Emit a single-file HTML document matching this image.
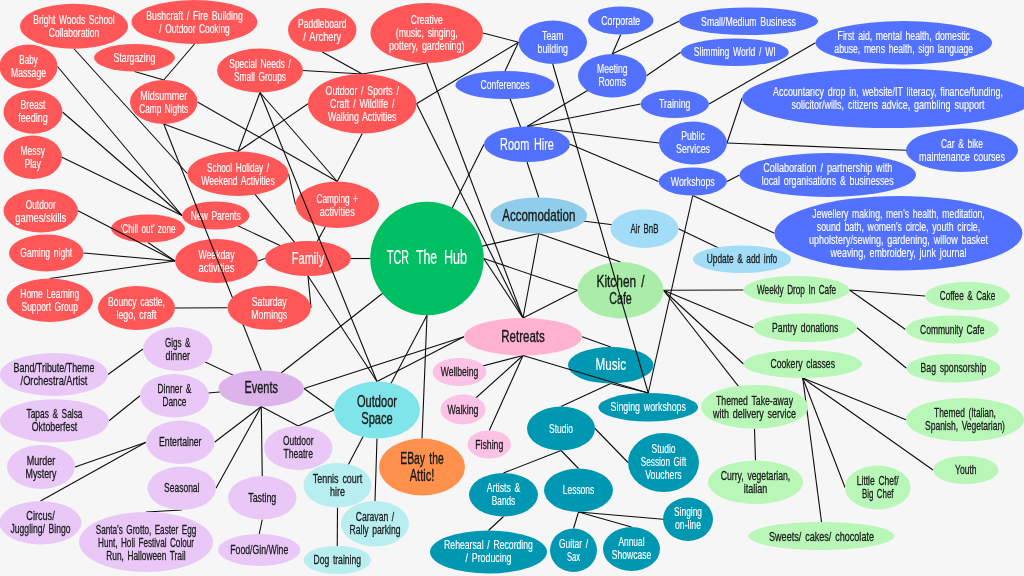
<!DOCTYPE html>
<html lang="en"><head><meta charset="utf-8"><title>TCR The Hub</title>
<style>
html,body{margin:0;padding:0;background:#f6f6f6;overflow:hidden}
svg{display:block;will-change:transform}
text{font-family:"Liberation Sans",Arial,sans-serif;text-anchor:middle;font-weight:normal;stroke-linejoin:round;word-spacing:0.15em}
line{stroke:#0d0d0d;stroke-width:1.1;stroke-linecap:butt}
</style></head>
<body>
<svg width="1024" height="576" viewBox="0 0 1024 576">
<rect width="1024" height="576" fill="#f6f6f6"/>
<line x1="74" y1="48.75" x2="187.5" y2="173.75"/>
<line x1="57.5" y1="66.5" x2="182.0" y2="215.5"/>
<line x1="62.5" y1="112.0" x2="182.0" y2="215.5"/>
<line x1="62.0" y1="157.25" x2="182.0" y2="215.5"/>
<line x1="194.5" y1="44" x2="163.75" y2="80"/>
<line x1="134.5" y1="71.5" x2="163.75" y2="80"/>
<line x1="197.5" y1="102" x2="337.25" y2="181.5"/>
<line x1="163.75" y1="124" x2="238" y2="151.5"/>
<line x1="260" y1="92.5" x2="238" y2="151.5"/>
<line x1="260" y1="92.5" x2="337.25" y2="181.5"/>
<line x1="303" y1="70.5" x2="362.25" y2="74.0"/>
<line x1="322.25" y1="52" x2="362.25" y2="74.0"/>
<line x1="426.75" y1="63" x2="362.25" y2="74.0"/>
<line x1="426.75" y1="63" x2="523" y2="318.0"/>
<line x1="483.0" y1="33" x2="518.5" y2="42.25"/>
<line x1="416.5" y1="103.75" x2="518.5" y2="42.25"/>
<line x1="416.5" y1="103.75" x2="523" y2="318.0"/>
<line x1="362.25" y1="133.5" x2="337.25" y2="181.5"/>
<line x1="308.0" y1="103.75" x2="238" y2="151.5"/>
<line x1="288.5" y1="173.75" x2="295.5" y2="204.75"/>
<line x1="238" y1="173.75" x2="308" y2="258.5"/>
<line x1="337.25" y1="204.75" x2="308" y2="258.5"/>
<line x1="215.75" y1="215.5" x2="308" y2="258.5"/>
<line x1="258.0" y1="261" x2="265" y2="258.5"/>
<line x1="351" y1="258.5" x2="370.25" y2="258.5"/>
<line x1="308" y1="276.0" x2="311.0" y2="307.8"/>
<line x1="308" y1="276.0" x2="377" y2="381.5"/>
<line x1="175.0" y1="308" x2="227.5" y2="307.8"/>
<line x1="83.5" y1="253" x2="175.0" y2="261"/>
<line x1="148" y1="242.5" x2="175.0" y2="261"/>
<line x1="49.75" y1="278.5" x2="175.0" y2="261"/>
<line x1="518.5" y1="42.25" x2="505" y2="71"/>
<line x1="505" y1="85" x2="527" y2="144.25"/>
<line x1="620.75" y1="34.5" x2="612.25" y2="54.0"/>
<line x1="679.0" y1="21.25" x2="612.25" y2="54.0"/>
<line x1="680.75" y1="52.25" x2="646.5" y2="75.75"/>
<line x1="527" y1="126.5" x2="612.25" y2="75.75"/>
<line x1="527" y1="126.5" x2="640.5" y2="104"/>
<line x1="527" y1="126.5" x2="659" y2="143"/>
<line x1="570" y1="144.25" x2="658.5" y2="181.5"/>
<line x1="484" y1="144.25" x2="427" y2="258.5"/>
<line x1="527" y1="162.0" x2="538.75" y2="197.5"/>
<line x1="709.0" y1="104" x2="815.5" y2="42.75"/>
<line x1="727" y1="143" x2="742" y2="98.25"/>
<line x1="727" y1="143" x2="906" y2="150.25"/>
<line x1="727.0" y1="181.5" x2="739.5" y2="175"/>
<line x1="692.75" y1="195.5" x2="774.5" y2="233.25"/>
<line x1="692.75" y1="195.5" x2="648.25" y2="393.0"/>
<line x1="538.75" y1="215.5" x2="644.5" y2="228.75"/>
<line x1="678.5" y1="228.75" x2="742" y2="259.25"/>
<line x1="538.75" y1="233.5" x2="427" y2="258.5"/>
<line x1="538.75" y1="233.5" x2="523" y2="318.0"/>
<line x1="538.75" y1="233.5" x2="620.5" y2="262.0"/>
<line x1="483.75" y1="258.5" x2="577.5" y2="290.25"/>
<line x1="483.75" y1="258.5" x2="523" y2="318.0"/>
<line x1="427" y1="258.5" x2="261.25" y2="388.5"/>
<line x1="427" y1="315.25" x2="377" y2="410"/>
<line x1="427" y1="315.25" x2="422" y2="438.5"/>
<line x1="523" y1="318.0" x2="577.5" y2="290.25"/>
<line x1="663.5" y1="290.25" x2="743.5" y2="290"/>
<line x1="663.5" y1="290.25" x2="753.5" y2="327.75"/>
<line x1="663.5" y1="290.25" x2="743.5" y2="364"/>
<line x1="663.5" y1="290.25" x2="754.5" y2="406.8"/>
<line x1="849.5" y1="290" x2="925.0" y2="296"/>
<line x1="849.5" y1="290" x2="905.5" y2="329.5"/>
<line x1="857.0" y1="327.75" x2="906.5" y2="368.25"/>
<line x1="802.75" y1="378" x2="906" y2="419.75"/>
<line x1="802.75" y1="378" x2="933.0" y2="470"/>
<line x1="802.75" y1="378" x2="845.0" y2="487.5"/>
<line x1="802.75" y1="378" x2="821.5" y2="522"/>
<line x1="754.5" y1="428.7" x2="755.5" y2="460.5"/>
<line x1="582" y1="336.75" x2="610.75" y2="347.0"/>
<line x1="523" y1="355.5" x2="459.5" y2="372"/>
<line x1="523" y1="355.5" x2="463" y2="409.5"/>
<line x1="523" y1="355.5" x2="489.25" y2="430.5"/>
<line x1="304.0" y1="388.5" x2="464" y2="336.75"/>
<line x1="377" y1="381.5" x2="464" y2="336.75"/>
<line x1="610.75" y1="383.5" x2="648.25" y2="393.0"/>
<line x1="610.75" y1="383.5" x2="561" y2="406.5"/>
<line x1="561" y1="450.5" x2="503.5" y2="473.0"/>
<line x1="561" y1="450.5" x2="578.5" y2="468.5"/>
<line x1="595" y1="428.5" x2="628.0" y2="462.5"/>
<line x1="503.5" y1="516.5" x2="488.5" y2="530.5"/>
<line x1="578.5" y1="512.0" x2="573.5" y2="528.5"/>
<line x1="578.5" y1="512.0" x2="631.5" y2="527"/>
<line x1="578.5" y1="512.0" x2="663" y2="519.25"/>
<line x1="177.75" y1="349" x2="261.25" y2="388.5"/>
<line x1="174.5" y1="395.75" x2="261.25" y2="388.5"/>
<line x1="108" y1="374.5" x2="143.0" y2="349"/>
<line x1="109.0" y1="420.8" x2="140.0" y2="395.75"/>
<line x1="261.25" y1="406.5" x2="214.5" y2="442.25"/>
<line x1="261.25" y1="406.5" x2="216.0" y2="488.25"/>
<line x1="261.25" y1="406.5" x2="262.25" y2="476.0"/>
<line x1="261.25" y1="406.5" x2="298.25" y2="426"/>
<line x1="298.25" y1="426" x2="334" y2="410"/>
<line x1="304.0" y1="388.5" x2="334" y2="410"/>
<line x1="146.0" y1="442.25" x2="75" y2="467"/>
<line x1="146.0" y1="442.25" x2="40.5" y2="501.0"/>
<line x1="181.75" y1="510.0" x2="146" y2="512"/>
<line x1="262.25" y1="519.5" x2="259.25" y2="534"/>
<line x1="377" y1="410" x2="337.5" y2="485.25"/>
<line x1="377" y1="438.5" x2="375" y2="501.0"/>
<line x1="337.5" y1="507.5" x2="337.25" y2="546"/>
<g><ellipse cx="74" cy="26.25" rx="54" ry="22.5" fill="#ff5757"/><text transform="translate(74.00 24.05) scale(0.6888 1)" font-size="12.3" fill="#ffffff" stroke="#ffffff" stroke-width="0.14">Bright Woods School</text><text transform="translate(74.00 37.05) scale(0.6968 1)" font-size="12.3" fill="#ffffff" stroke="#ffffff" stroke-width="0.14">Collaboration</text></g>
<g><ellipse cx="194.5" cy="22" rx="63" ry="22" fill="#ff5757"/><text transform="translate(194.50 19.80) scale(0.7090 1)" font-size="12.3" fill="#ffffff" stroke="#ffffff" stroke-width="0.14">Bushcraft / Fire Building</text><text transform="translate(194.50 32.80) scale(0.6811 1)" font-size="12.3" fill="#ffffff" stroke="#ffffff" stroke-width="0.14">/ Outdoor Cooking</text></g>
<g><ellipse cx="134.5" cy="57.75" rx="40.5" ry="13.75" fill="#ff5757"/><text transform="translate(134.50 62.05) scale(0.7143 1)" font-size="12.3" fill="#ffffff" stroke="#ffffff" stroke-width="0.14">Stargazing</text></g>
<g><ellipse cx="28.5" cy="66.5" rx="29" ry="22" fill="#ff5757"/><text transform="translate(28.50 64.30) scale(0.6599 1)" font-size="12.3" fill="#ffffff" stroke="#ffffff" stroke-width="0.14">Baby</text><text transform="translate(28.50 77.30) scale(0.7013 1)" font-size="12.3" fill="#ffffff" stroke="#ffffff" stroke-width="0.14">Massage</text></g>
<g><ellipse cx="33" cy="112.0" rx="29.5" ry="21.75" fill="#ff5757"/><text transform="translate(33.00 109.30) scale(0.7033 1)" font-size="12.3" fill="#ffffff" stroke="#ffffff" stroke-width="0.14">Breast</text><text transform="translate(33.00 122.30) scale(0.7311 1)" font-size="12.3" fill="#ffffff" stroke="#ffffff" stroke-width="0.14">feeding</text></g>
<g><ellipse cx="32.75" cy="157.25" rx="29.25" ry="21.75" fill="#ff5757"/><text transform="translate(32.75 155.05) scale(0.6895 1)" font-size="12.3" fill="#ffffff" stroke="#ffffff" stroke-width="0.14">Messy</text><text transform="translate(32.75 168.05) scale(0.6687 1)" font-size="12.3" fill="#ffffff" stroke="#ffffff" stroke-width="0.14">Play</text></g>
<g><ellipse cx="163.75" cy="102" rx="33.75" ry="22" fill="#ff5757"/><text transform="translate(163.75 99.80) scale(0.7317 1)" font-size="12.3" fill="#ffffff" stroke="#ffffff" stroke-width="0.14">Midsummer</text><text transform="translate(163.75 112.80) scale(0.6718 1)" font-size="12.3" fill="#ffffff" stroke="#ffffff" stroke-width="0.14">Camp Nights</text></g>
<g><ellipse cx="260" cy="70.5" rx="43" ry="22" fill="#ff5757"/><text transform="translate(260.00 68.30) scale(0.6846 1)" font-size="12.3" fill="#ffffff" stroke="#ffffff" stroke-width="0.14">Special Needs /</text><text transform="translate(260.00 81.30) scale(0.6811 1)" font-size="12.3" fill="#ffffff" stroke="#ffffff" stroke-width="0.14">Small Groups</text></g>
<g><ellipse cx="322.25" cy="30" rx="34.25" ry="22" fill="#ff5757"/><text transform="translate(322.25 27.80) scale(0.6953 1)" font-size="12.3" fill="#ffffff" stroke="#ffffff" stroke-width="0.14">Paddleboard</text><text transform="translate(322.25 40.80) scale(0.7543 1)" font-size="12.3" fill="#ffffff" stroke="#ffffff" stroke-width="0.14">/ Archery</text></g>
<g><ellipse cx="426.75" cy="33" rx="56.25" ry="30" fill="#ff5757"/><text transform="translate(426.75 24.30) scale(0.6987 1)" font-size="12.3" fill="#ffffff" stroke="#ffffff" stroke-width="0.14">Creative</text><text transform="translate(426.75 37.30) scale(0.7103 1)" font-size="12.3" fill="#ffffff" stroke="#ffffff" stroke-width="0.14">(music, singing,</text><text transform="translate(426.75 50.30) scale(0.7248 1)" font-size="12.3" fill="#ffffff" stroke="#ffffff" stroke-width="0.14">pottery, gardening)</text></g>
<g><ellipse cx="362.25" cy="103.75" rx="54.25" ry="29.75" fill="#ff5757"/><text transform="translate(362.25 95.05) scale(0.7163 1)" font-size="12.3" fill="#ffffff" stroke="#ffffff" stroke-width="0.14">Outdoor / Sports /</text><text transform="translate(362.25 108.05) scale(0.7254 1)" font-size="12.3" fill="#ffffff" stroke="#ffffff" stroke-width="0.14">Craft / Wildlife /</text><text transform="translate(362.25 121.05) scale(0.7106 1)" font-size="12.3" fill="#ffffff" stroke="#ffffff" stroke-width="0.14">Walking Activities</text></g>
<g><ellipse cx="238" cy="173.75" rx="50.5" ry="22.25" fill="#ff5757"/><text transform="translate(238.00 171.55) scale(0.6698 1)" font-size="12.3" fill="#ffffff" stroke="#ffffff" stroke-width="0.14">School Holiday /</text><text transform="translate(238.00 184.55) scale(0.7010 1)" font-size="12.3" fill="#ffffff" stroke="#ffffff" stroke-width="0.14">Weekend Activities</text></g>
<g><ellipse cx="337.25" cy="204.75" rx="41.75" ry="23.25" fill="#ff5757"/><text transform="translate(337.25 202.55) scale(0.6730 1)" font-size="12.3" fill="#ffffff" stroke="#ffffff" stroke-width="0.14">Camping +</text><text transform="translate(337.25 215.55) scale(0.7421 1)" font-size="12.3" fill="#ffffff" stroke="#ffffff" stroke-width="0.14">activities</text></g>
<g><ellipse cx="40.75" cy="210.75" rx="37.25" ry="21.75" fill="#ff5757"/><text transform="translate(40.75 208.55) scale(0.6751 1)" font-size="12.3" fill="#ffffff" stroke="#ffffff" stroke-width="0.14">Outdoor</text><text transform="translate(40.75 221.55) scale(0.7614 1)" font-size="12.3" fill="#ffffff" stroke="#ffffff" stroke-width="0.14">games/skills</text></g>
<g><ellipse cx="148" cy="228.5" rx="37" ry="14" fill="#ff5757"/><text transform="translate(148.00 232.80) scale(0.6609 1)" font-size="12.3" fill="#ffffff" stroke="#ffffff" stroke-width="0.14">‘Chill out’ zone</text></g>
<g><ellipse cx="215.75" cy="215.5" rx="33.75" ry="14" fill="#ff5757"/><text transform="translate(215.75 219.80) scale(0.6920 1)" font-size="12.3" fill="#ffffff" stroke="#ffffff" stroke-width="0.14">New Parents</text></g>
<g><ellipse cx="46.25" cy="253" rx="37.25" ry="18.5" fill="#ff5757"/><text transform="translate(46.25 257.30) scale(0.6934 1)" font-size="12.3" fill="#ffffff" stroke="#ffffff" stroke-width="0.14">Gaming night</text></g>
<g><ellipse cx="216.5" cy="261" rx="41.5" ry="22" fill="#ff5757"/><text transform="translate(216.50 258.80) scale(0.7052 1)" font-size="12.3" fill="#ffffff" stroke="#ffffff" stroke-width="0.14">Weekday</text><text transform="translate(216.50 271.80) scale(0.7633 1)" font-size="12.3" fill="#ffffff" stroke="#ffffff" stroke-width="0.14">activities</text></g>
<g><ellipse cx="308" cy="258.5" rx="43" ry="17.5" fill="#ff5757"/><text transform="translate(308.00 264.00) scale(0.6899 1)" font-size="16.0" fill="#ffffff" stroke="#ffffff" stroke-width="0.19">Family</text></g>
<g><ellipse cx="49.75" cy="300.25" rx="43.25" ry="21.75" fill="#ff5757"/><text transform="translate(49.75 298.05) scale(0.6865 1)" font-size="12.3" fill="#ffffff" stroke="#ffffff" stroke-width="0.14">Home Learning</text><text transform="translate(49.75 311.05) scale(0.6847 1)" font-size="12.3" fill="#ffffff" stroke="#ffffff" stroke-width="0.14">Support Group</text></g>
<g><ellipse cx="136.5" cy="308" rx="38.5" ry="22" fill="#ff5757"/><text transform="translate(136.50 305.80) scale(0.6965 1)" font-size="12.3" fill="#ffffff" stroke="#ffffff" stroke-width="0.14">Bouncy castle,</text><text transform="translate(136.50 318.80) scale(0.7162 1)" font-size="12.3" fill="#ffffff" stroke="#ffffff" stroke-width="0.14">lego, craft</text></g>
<g><ellipse cx="427" cy="258.5" rx="56.75" ry="56.75" fill="#00bf63"/><text y="264.10" font-size="19.8" fill="#ffffff" stroke="#ffffff" stroke-width="0.2" style="text-anchor:start"><tspan x="387.10" textLength="21.90" lengthAdjust="spacingAndGlyphs">TCR</tspan> <tspan x="415.90" textLength="21.20" lengthAdjust="spacingAndGlyphs">The</tspan> <tspan x="444.00" textLength="23.10" lengthAdjust="spacingAndGlyphs">Hub</tspan></text></g>
<g><ellipse cx="552.75" cy="42.25" rx="34.25" ry="21.75" fill="#5271ff"/><text transform="translate(552.75 40.05) scale(0.7149 1)" font-size="12.3" fill="#ffffff" stroke="#ffffff" stroke-width="0.14">Team</text><text transform="translate(552.75 53.05) scale(0.7194 1)" font-size="12.3" fill="#ffffff" stroke="#ffffff" stroke-width="0.14">building</text></g>
<g><ellipse cx="620.75" cy="20.5" rx="32.75" ry="14" fill="#5271ff"/><text transform="translate(620.75 24.80) scale(0.7131 1)" font-size="12.3" fill="#ffffff" stroke="#ffffff" stroke-width="0.14">Corporate</text></g>
<g><ellipse cx="748.5" cy="21.25" rx="69.5" ry="13.75" fill="#5271ff"/><text transform="translate(748.50 25.55) scale(0.7138 1)" font-size="12.3" fill="#ffffff" stroke="#ffffff" stroke-width="0.14">Small/Medium Business</text></g>
<g><ellipse cx="734.75" cy="52.25" rx="54" ry="13.75" fill="#5271ff"/><text transform="translate(734.75 56.05) scale(0.7027 1)" font-size="12.3" fill="#ffffff" stroke="#ffffff" stroke-width="0.14">Slimming World / WI</text></g>
<g><ellipse cx="505" cy="85" rx="49.5" ry="14" fill="#5271ff"/><text transform="translate(505.00 89.30) scale(0.7027 1)" font-size="12.3" fill="#ffffff" stroke="#ffffff" stroke-width="0.14">Conferences</text></g>
<g><ellipse cx="612.25" cy="75.75" rx="34.25" ry="21.75" fill="#5271ff"/><text transform="translate(612.25 73.05) scale(0.6971 1)" font-size="12.3" fill="#ffffff" stroke="#ffffff" stroke-width="0.14">Meeting</text><text transform="translate(612.25 86.05) scale(0.7059 1)" font-size="12.3" fill="#ffffff" stroke="#ffffff" stroke-width="0.14">Rooms</text></g>
<g><ellipse cx="674.75" cy="104" rx="34.25" ry="14" fill="#5271ff"/><text transform="translate(674.75 108.30) scale(0.7163 1)" font-size="12.3" fill="#ffffff" stroke="#ffffff" stroke-width="0.14">Training</text></g>
<g><ellipse cx="903.75" cy="42.75" rx="88.25" ry="21.75" fill="#5271ff"/><text transform="translate(903.75 39.95) scale(0.7054 1)" font-size="12.3" fill="#ffffff" stroke="#ffffff" stroke-width="0.14">First aid, mental health, domestic</text><text transform="translate(903.75 52.95) scale(0.7015 1)" font-size="12.3" fill="#ffffff" stroke="#ffffff" stroke-width="0.14">abuse, mens health, sign language</text></g>
<g><ellipse cx="888" cy="98.25" rx="146" ry="29.75" fill="#5271ff"/><text transform="translate(888.00 95.75) scale(0.7222 1)" font-size="12.3" fill="#ffffff" stroke="#ffffff" stroke-width="0.14">Accountancy drop in, website/IT literacy, finance/funding,</text><text transform="translate(888.00 108.75) scale(0.7318 1)" font-size="12.3" fill="#ffffff" stroke="#ffffff" stroke-width="0.14">solicitor/wills, citizens advice, gambling support</text></g>
<g><ellipse cx="527" cy="144.25" rx="43" ry="17.75" fill="#5271ff"/><text transform="translate(527.00 149.65) scale(0.6822 1)" font-size="16.0" fill="#ffffff" stroke="#ffffff" stroke-width="0.19">Room Hire</text></g>
<g><ellipse cx="693" cy="143" rx="34" ry="21.5" fill="#5271ff"/><text transform="translate(693.00 140.30) scale(0.7015 1)" font-size="12.3" fill="#ffffff" stroke="#ffffff" stroke-width="0.14">Public</text><text transform="translate(693.00 153.30) scale(0.7209 1)" font-size="12.3" fill="#ffffff" stroke="#ffffff" stroke-width="0.14">Services</text></g>
<g><ellipse cx="962" cy="150.25" rx="56" ry="21.75" fill="#5271ff"/><text transform="translate(962.00 148.05) scale(0.6873 1)" font-size="12.3" fill="#ffffff" stroke="#ffffff" stroke-width="0.14">Car &amp; bike</text><text transform="translate(962.00 161.05) scale(0.7242 1)" font-size="12.3" fill="#ffffff" stroke="#ffffff" stroke-width="0.14">maintenance courses</text></g>
<g><ellipse cx="692.75" cy="181.5" rx="34.25" ry="14" fill="#5271ff"/><text transform="translate(692.75 185.80) scale(0.7179 1)" font-size="12.3" fill="#ffffff" stroke="#ffffff" stroke-width="0.14">Workshops</text></g>
<g><ellipse cx="827.75" cy="175" rx="88.25" ry="22" fill="#5271ff"/><text transform="translate(827.75 172.00) scale(0.7368 1)" font-size="12.3" fill="#ffffff" stroke="#ffffff" stroke-width="0.14">Collaboration / partnership with</text><text transform="translate(827.75 185.00) scale(0.7175 1)" font-size="12.3" fill="#ffffff" stroke="#ffffff" stroke-width="0.14">local organisations &amp; businesses</text></g>
<g><ellipse cx="898.5" cy="233.25" rx="124" ry="37.25" fill="#5271ff"/><text transform="translate(898.50 218.05) scale(0.7039 1)" font-size="12.3" fill="#ffffff" stroke="#ffffff" stroke-width="0.14">Jewellery making, men’s health, meditation,</text><text transform="translate(898.50 231.05) scale(0.7115 1)" font-size="12.3" fill="#ffffff" stroke="#ffffff" stroke-width="0.14">sound bath, women’s circle, youth circle,</text><text transform="translate(898.50 244.05) scale(0.7332 1)" font-size="12.3" fill="#ffffff" stroke="#ffffff" stroke-width="0.14">upholstery/sewing, gardening, willow basket</text><text transform="translate(898.50 257.05) scale(0.7240 1)" font-size="12.3" fill="#ffffff" stroke="#ffffff" stroke-width="0.14">weaving, embroidery, junk journal</text></g>
<g><ellipse cx="538.75" cy="215.5" rx="48.25" ry="18" fill="#8fcdea"/><text transform="translate(538.75 220.80) scale(0.7220 1)" font-size="16.0" fill="#1a1a1a" stroke="#1a1a1a" stroke-width="0.38">Accomodation</text></g>
<g><ellipse cx="644.5" cy="228.75" rx="34" ry="19.25" fill="#a2dcf7"/><text transform="translate(644.50 233.05) scale(0.6430 1)" font-size="12.3" fill="#1a1a1a" stroke="#1a1a1a" stroke-width="0.28">Air BnB</text></g>
<g><ellipse cx="742" cy="259.25" rx="49" ry="13.75" fill="#a2dcf7"/><text transform="translate(742.00 262.85) scale(0.6779 1)" font-size="12.3" fill="#1a1a1a" stroke="#1a1a1a" stroke-width="0.28">Update &amp; add info</text></g>
<g><ellipse cx="620.5" cy="290.25" rx="43" ry="28.25" fill="#a9eda8"/><text transform="translate(620.50 286.75) scale(0.7424 1)" font-size="16.0" fill="#1a1a1a" stroke="#1a1a1a" stroke-width="0.38">Kitchen /</text><text transform="translate(620.50 303.75) scale(0.6687 1)" font-size="16.0" fill="#1a1a1a" stroke="#1a1a1a" stroke-width="0.38">Cafe</text></g>
<g><ellipse cx="796.5" cy="290" rx="53" ry="14" fill="#b8f7b8"/><text transform="translate(796.50 294.30) scale(0.6651 1)" font-size="12.3" fill="#1a1a1a" stroke="#1a1a1a" stroke-width="0.28">Weekly Drop In Cafe</text></g>
<g><ellipse cx="967.5" cy="296" rx="42.5" ry="14" fill="#b8f7b8"/><text transform="translate(967.50 300.30) scale(0.6650 1)" font-size="12.3" fill="#1a1a1a" stroke="#1a1a1a" stroke-width="0.28">Coffee &amp; Cake</text></g>
<g><ellipse cx="805.25" cy="327.75" rx="51.75" ry="14.25" fill="#b8f7b8"/><text transform="translate(805.25 331.55) scale(0.7053 1)" font-size="12.3" fill="#1a1a1a" stroke="#1a1a1a" stroke-width="0.28">Pantry donations</text></g>
<g><ellipse cx="952.25" cy="329.5" rx="46.75" ry="14" fill="#b8f7b8"/><text transform="translate(952.25 333.80) scale(0.6903 1)" font-size="12.3" fill="#1a1a1a" stroke="#1a1a1a" stroke-width="0.28">Community Cafe</text></g>
<g><ellipse cx="802.75" cy="364" rx="59.25" ry="14" fill="#b8f7b8"/><text transform="translate(802.75 368.00) scale(0.7005 1)" font-size="12.3" fill="#1a1a1a" stroke="#1a1a1a" stroke-width="0.28">Cookery classes</text></g>
<g><ellipse cx="953.5" cy="368.25" rx="47" ry="14.25" fill="#b8f7b8"/><text transform="translate(953.50 371.75) scale(0.7061 1)" font-size="12.3" fill="#1a1a1a" stroke="#1a1a1a" stroke-width="0.28">Bag sponsorship</text></g>
<g><ellipse cx="754.5" cy="406.8" rx="53.5" ry="21.9" fill="#b8f7b8"/><text transform="translate(754.50 404.60) scale(0.7068 1)" font-size="12.3" fill="#1a1a1a" stroke="#1a1a1a" stroke-width="0.28">Themed Take-away</text><text transform="translate(754.50 417.60) scale(0.7298 1)" font-size="12.3" fill="#1a1a1a" stroke="#1a1a1a" stroke-width="0.28">with delivery service</text></g>
<g><ellipse cx="965" cy="419.75" rx="59" ry="21.75" fill="#b8f7b8"/><text transform="translate(965.00 416.85) scale(0.6835 1)" font-size="12.3" fill="#1a1a1a" stroke="#1a1a1a" stroke-width="0.28">Themed (Italian,</text><text transform="translate(965.00 429.85) scale(0.6895 1)" font-size="12.3" fill="#1a1a1a" stroke="#1a1a1a" stroke-width="0.28">Spanish, Vegetarian)</text></g>
<g><ellipse cx="755.5" cy="482.25" rx="47.5" ry="21.75" fill="#b8f7b8"/><text transform="translate(755.50 479.65) scale(0.7043 1)" font-size="12.3" fill="#1a1a1a" stroke="#1a1a1a" stroke-width="0.28">Curry, vegetarian,</text><text transform="translate(755.50 492.65) scale(0.7313 1)" font-size="12.3" fill="#1a1a1a" stroke="#1a1a1a" stroke-width="0.28">italian</text></g>
<g><ellipse cx="877.75" cy="487.5" rx="32.75" ry="22" fill="#b8f7b8"/><text transform="translate(877.75 485.30) scale(0.6926 1)" font-size="12.3" fill="#1a1a1a" stroke="#1a1a1a" stroke-width="0.28">Little Chef/</text><text transform="translate(877.75 498.30) scale(0.6426 1)" font-size="12.3" fill="#1a1a1a" stroke="#1a1a1a" stroke-width="0.28">Big Chef</text></g>
<g><ellipse cx="965.75" cy="470" rx="32.75" ry="14" fill="#b8f7b8"/><text transform="translate(965.75 474.30) scale(0.6933 1)" font-size="12.3" fill="#1a1a1a" stroke="#1a1a1a" stroke-width="0.28">Youth</text></g>
<g><ellipse cx="821.5" cy="536" rx="73" ry="14" fill="#b8f7b8"/><text transform="translate(821.50 540.80) scale(0.7370 1)" font-size="12.3" fill="#1a1a1a" stroke="#1a1a1a" stroke-width="0.28">Sweets/ cakes/ chocolate</text></g>
<g><ellipse cx="523" cy="336.75" rx="59" ry="18.75" fill="#ffb3d1"/><text transform="translate(523.00 341.75) scale(0.7211 1)" font-size="16.0" fill="#1a1a1a" stroke="#1a1a1a" stroke-width="0.38">Retreats</text></g>
<g><ellipse cx="459.5" cy="372" rx="27" ry="14" fill="#fcc2e6"/><text transform="translate(459.50 376.30) scale(0.6972 1)" font-size="12.3" fill="#1a1a1a" stroke="#1a1a1a" stroke-width="0.28">Wellbeing</text></g>
<g><ellipse cx="463" cy="409.5" rx="22.5" ry="15" fill="#fcc2e6"/><text transform="translate(463.00 413.80) scale(0.7161 1)" font-size="12.3" fill="#1a1a1a" stroke="#1a1a1a" stroke-width="0.28">Walking</text></g>
<g><ellipse cx="489.25" cy="444.5" rx="21.75" ry="14" fill="#fcc2e6"/><text transform="translate(489.25 448.80) scale(0.7062 1)" font-size="12.3" fill="#1a1a1a" stroke="#1a1a1a" stroke-width="0.28">Fishing</text></g>
<g><ellipse cx="610.75" cy="365.25" rx="42.75" ry="18.25" fill="#0097b2"/><text transform="translate(610.75 370.25) scale(0.7300 1)" font-size="16.0" fill="#ffffff" stroke="#ffffff" stroke-width="0.19">Music</text></g>
<g><ellipse cx="648.25" cy="407.25" rx="49.75" ry="14.25" fill="#0097b2"/><text transform="translate(648.25 411.05) scale(0.7185 1)" font-size="12.3" fill="#ffffff" stroke="#ffffff" stroke-width="0.14">Singing workshops</text></g>
<g><ellipse cx="561" cy="428.5" rx="34" ry="22" fill="#0097b2"/><text transform="translate(561.00 432.80) scale(0.6882 1)" font-size="12.3" fill="#ffffff" stroke="#ffffff" stroke-width="0.14">Studio</text></g>
<g><ellipse cx="663.5" cy="462.5" rx="35.5" ry="29.5" fill="#0097b2"/><text transform="translate(663.50 453.30) scale(0.6882 1)" font-size="12.3" fill="#ffffff" stroke="#ffffff" stroke-width="0.14">Studio</text><text transform="translate(663.50 466.30) scale(0.6676 1)" font-size="12.3" fill="#ffffff" stroke="#ffffff" stroke-width="0.14">Session Gift</text><text transform="translate(663.50 479.30) scale(0.7118 1)" font-size="12.3" fill="#ffffff" stroke="#ffffff" stroke-width="0.14">Vouchers</text></g>
<g><ellipse cx="503.5" cy="494.75" rx="34.5" ry="21.75" fill="#0097b2"/><text transform="translate(503.50 492.05) scale(0.7033 1)" font-size="12.3" fill="#ffffff" stroke="#ffffff" stroke-width="0.14">Artists &amp;</text><text transform="translate(503.50 505.05) scale(0.6738 1)" font-size="12.3" fill="#ffffff" stroke="#ffffff" stroke-width="0.14">Bands</text></g>
<g><ellipse cx="578.5" cy="490.25" rx="34.5" ry="21.75" fill="#0097b2"/><text transform="translate(578.50 494.15) scale(0.6876 1)" font-size="12.3" fill="#ffffff" stroke="#ffffff" stroke-width="0.14">Lessons</text></g>
<g><ellipse cx="688" cy="519.25" rx="25" ry="21.75" fill="#0097b2"/><text transform="translate(688.00 516.45) scale(0.6824 1)" font-size="12.3" fill="#ffffff" stroke="#ffffff" stroke-width="0.14">Singing</text><text transform="translate(688.00 529.45) scale(0.7042 1)" font-size="12.3" fill="#ffffff" stroke="#ffffff" stroke-width="0.14">on-line</text></g>
<g><ellipse cx="488.5" cy="552" rx="58.5" ry="21.5" fill="#0097b2"/><text transform="translate(488.50 549.30) scale(0.7060 1)" font-size="12.3" fill="#ffffff" stroke="#ffffff" stroke-width="0.14">Rehearsal / Recording</text><text transform="translate(488.50 562.30) scale(0.7181 1)" font-size="12.3" fill="#ffffff" stroke="#ffffff" stroke-width="0.14">/ Producing</text></g>
<g><ellipse cx="573.5" cy="550.25" rx="23.5" ry="21.75" fill="#0097b2"/><text transform="translate(573.50 548.05) scale(0.6877 1)" font-size="12.3" fill="#ffffff" stroke="#ffffff" stroke-width="0.14">Guitar /</text><text transform="translate(573.50 561.05) scale(0.6134 1)" font-size="12.3" fill="#ffffff" stroke="#ffffff" stroke-width="0.14">Sax</text></g>
<g><ellipse cx="631.5" cy="549" rx="28.5" ry="22" fill="#0097b2"/><text transform="translate(631.50 546.30) scale(0.6789 1)" font-size="12.3" fill="#ffffff" stroke="#ffffff" stroke-width="0.14">Annual</text><text transform="translate(631.50 559.30) scale(0.6961 1)" font-size="12.3" fill="#ffffff" stroke="#ffffff" stroke-width="0.14">Showcase</text></g>
<g><ellipse cx="261.25" cy="388.5" rx="42.75" ry="18" fill="#dcb3ea"/><text transform="translate(261.25 393.10) scale(0.6829 1)" font-size="16.0" fill="#1a1a1a" stroke="#1a1a1a" stroke-width="0.38">Events</text></g>
<g><ellipse cx="177.75" cy="349" rx="34.75" ry="22" fill="#e9c8f7"/><text transform="translate(177.75 346.80) scale(0.6580 1)" font-size="12.3" fill="#1a1a1a" stroke="#1a1a1a" stroke-width="0.28">Gigs &amp;</text><text transform="translate(177.75 359.80) scale(0.7166 1)" font-size="12.3" fill="#1a1a1a" stroke="#1a1a1a" stroke-width="0.28">dinner</text></g>
<g><ellipse cx="54" cy="374.5" rx="54" ry="21.5" fill="#e9c8f7"/><text transform="translate(54.00 372.30) scale(0.7254 1)" font-size="12.3" fill="#1a1a1a" stroke="#1a1a1a" stroke-width="0.28">Band/Tribute/Theme</text><text transform="translate(54.00 385.30) scale(0.7541 1)" font-size="12.3" fill="#1a1a1a" stroke="#1a1a1a" stroke-width="0.28">/Orchestra/Artist</text></g>
<g><ellipse cx="174.5" cy="395.75" rx="34.5" ry="21.75" fill="#e9c8f7"/><text transform="translate(174.50 392.85) scale(0.6841 1)" font-size="12.3" fill="#1a1a1a" stroke="#1a1a1a" stroke-width="0.28">Dinner &amp;</text><text transform="translate(174.50 405.85) scale(0.6751 1)" font-size="12.3" fill="#1a1a1a" stroke="#1a1a1a" stroke-width="0.28">Dance</text></g>
<g><ellipse cx="54.5" cy="420.8" rx="54.5" ry="21.6" fill="#e9c8f7"/><text transform="translate(54.50 417.90) scale(0.6803 1)" font-size="12.3" fill="#1a1a1a" stroke="#1a1a1a" stroke-width="0.28">Tapas &amp; Salsa</text><text transform="translate(54.50 430.90) scale(0.7157 1)" font-size="12.3" fill="#1a1a1a" stroke="#1a1a1a" stroke-width="0.28">Oktoberfest</text></g>
<g><ellipse cx="180.25" cy="442.25" rx="34.25" ry="21.75" fill="#e9c8f7"/><text transform="translate(180.25 445.75) scale(0.7064 1)" font-size="12.3" fill="#1a1a1a" stroke="#1a1a1a" stroke-width="0.28">Entertainer</text></g>
<g><ellipse cx="41" cy="467" rx="34" ry="22" fill="#e9c8f7"/><text transform="translate(41.00 464.80) scale(0.7316 1)" font-size="12.3" fill="#1a1a1a" stroke="#1a1a1a" stroke-width="0.28">Murder</text><text transform="translate(41.00 477.80) scale(0.7201 1)" font-size="12.3" fill="#1a1a1a" stroke="#1a1a1a" stroke-width="0.28">Mystery</text></g>
<g><ellipse cx="181.75" cy="488.25" rx="34.25" ry="21.75" fill="#e9c8f7"/><text transform="translate(181.75 491.55) scale(0.6922 1)" font-size="12.3" fill="#1a1a1a" stroke="#1a1a1a" stroke-width="0.28">Seasonal</text></g>
<g><ellipse cx="40.5" cy="522.75" rx="41" ry="21.75" fill="#e9c8f7"/><text transform="translate(40.50 519.75) scale(0.7447 1)" font-size="12.3" fill="#1a1a1a" stroke="#1a1a1a" stroke-width="0.28">Circus/</text><text transform="translate(40.50 532.75) scale(0.6981 1)" font-size="12.3" fill="#1a1a1a" stroke="#1a1a1a" stroke-width="0.28">Juggling/ Bingo</text></g>
<g><ellipse cx="146" cy="542" rx="67" ry="30" fill="#e9c8f7"/><text transform="translate(146.00 533.80) scale(0.6629 1)" font-size="12.3" fill="#1a1a1a" stroke="#1a1a1a" stroke-width="0.28">Santa’s Grotto, Easter Egg</text><text transform="translate(146.00 546.80) scale(0.6622 1)" font-size="12.3" fill="#1a1a1a" stroke="#1a1a1a" stroke-width="0.28">Hunt, Holi Festival Colour</text><text transform="translate(146.00 559.80) scale(0.6785 1)" font-size="12.3" fill="#1a1a1a" stroke="#1a1a1a" stroke-width="0.28">Run, Halloween Trail</text></g>
<g><ellipse cx="298.25" cy="448" rx="34.25" ry="22" fill="#e9c8f7"/><text transform="translate(298.25 445.10) scale(0.6863 1)" font-size="12.3" fill="#1a1a1a" stroke="#1a1a1a" stroke-width="0.28">Outdoor</text><text transform="translate(298.25 458.10) scale(0.6960 1)" font-size="12.3" fill="#1a1a1a" stroke="#1a1a1a" stroke-width="0.28">Theatre</text></g>
<g><ellipse cx="262.25" cy="497.75" rx="34.25" ry="21.75" fill="#e9c8f7"/><text transform="translate(262.25 502.05) scale(0.7185 1)" font-size="12.3" fill="#1a1a1a" stroke="#1a1a1a" stroke-width="0.28">Tasting</text></g>
<g><ellipse cx="259.25" cy="550" rx="41.25" ry="16" fill="#e9c8f7"/><text transform="translate(259.25 554.30) scale(0.7071 1)" font-size="12.3" fill="#1a1a1a" stroke="#1a1a1a" stroke-width="0.28">Food/Gin/Wine</text></g>
<g><ellipse cx="377" cy="410" rx="43" ry="28.5" fill="#80e5ea"/><text transform="translate(377.00 406.50) scale(0.6920 1)" font-size="16.0" fill="#1a1a1a" stroke="#1a1a1a" stroke-width="0.38">Outdoor</text><text transform="translate(377.00 423.50) scale(0.6944 1)" font-size="16.0" fill="#1a1a1a" stroke="#1a1a1a" stroke-width="0.38">Space</text></g>
<g><ellipse cx="337.5" cy="485.25" rx="34" ry="22.25" fill="#b8eef0"/><text transform="translate(337.50 483.05) scale(0.7263 1)" font-size="12.3" fill="#1a1a1a" stroke="#1a1a1a" stroke-width="0.28">Tennis court</text><text transform="translate(337.50 496.05) scale(0.7314 1)" font-size="12.3" fill="#1a1a1a" stroke="#1a1a1a" stroke-width="0.28">hire</text></g>
<g><ellipse cx="375" cy="523.75" rx="34" ry="22.75" fill="#b8eef0"/><text transform="translate(375.00 520.65) scale(0.6979 1)" font-size="12.3" fill="#1a1a1a" stroke="#1a1a1a" stroke-width="0.28">Caravan /</text><text transform="translate(375.00 533.65) scale(0.6992 1)" font-size="12.3" fill="#1a1a1a" stroke="#1a1a1a" stroke-width="0.28">Rally parking</text></g>
<g><ellipse cx="337.25" cy="560" rx="33.75" ry="14" fill="#b8eef0"/><text transform="translate(337.25 564.30) scale(0.6969 1)" font-size="12.3" fill="#1a1a1a" stroke="#1a1a1a" stroke-width="0.28">Dog training</text></g>
<g><ellipse cx="422" cy="467" rx="43" ry="28.5" fill="#ff914d"/><text transform="translate(422.00 464.20) scale(0.6461 1)" font-size="16.0" fill="#1a1a1a" stroke="#1a1a1a" stroke-width="0.38">EBay the</text><text transform="translate(422.00 481.20) scale(0.6889 1)" font-size="16.0" fill="#1a1a1a" stroke="#1a1a1a" stroke-width="0.38">Attic!</text></g>
<line x1="163.75" y1="124" x2="261.25" y2="370.5"/>
<line x1="260" y1="92.5" x2="377" y2="381.5"/>
<line x1="78.0" y1="210.75" x2="175.0" y2="261"/>
<line x1="552.75" y1="64.0" x2="648.25" y2="393.0"/>
<line x1="523" y1="355.5" x2="648.25" y2="393.0"/>
<g><ellipse cx="269.25" cy="307.8" rx="41.75" ry="22" fill="#ff5757"/><text transform="translate(269.25 306.10) scale(0.7110 1)" font-size="12.3" fill="#ffffff" stroke="#ffffff" stroke-width="0.14">Saturday</text><text transform="translate(269.25 319.10) scale(0.7117 1)" font-size="12.3" fill="#ffffff" stroke="#ffffff" stroke-width="0.14">Mornings</text></g>
</svg>
</body></html>
